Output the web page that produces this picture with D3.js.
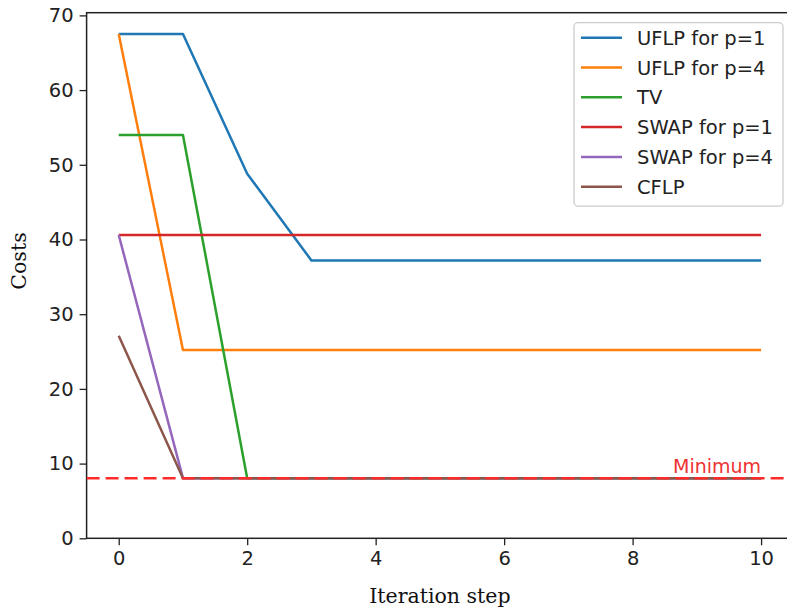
<!DOCTYPE html>
<html>
<head>
<meta charset="utf-8">
<script src="https://cdn.jsdelivr.net/npm/d3@7"></script>
<style>
  html, body { margin: 0; padding: 0; background: #fff; }
  svg { display: block; }
</style>
</head>
<body>
<svg id="chart" width="787" height="612"></svg>
<script>
// Iteration steps shared by every series
const steps = [0, 1, 2, 3, 4, 5, 6, 7, 8, 9, 10];

// Cost per iteration step for each method
const uflpP1  = [67.5, 67.5, 48.8, 37.2, 37.2, 37.2, 37.2, 37.2, 37.2, 37.2, 37.2];
const uflpP4  = [67.5, 25.2, 25.2, 25.2, 25.2, 25.2, 25.2, 25.2, 25.2, 25.2, 25.2];
const tv      = [54.0, 54.0, 8.05, 8.05, 8.05, 8.05, 8.05, 8.05, 8.05, 8.05, 8.05];
const swapP1  = [40.6, 40.6, 40.6, 40.6, 40.6, 40.6, 40.6, 40.6, 40.6, 40.6, 40.6];
const swapP4  = [40.6, 8.05, 8.05, 8.05, 8.05, 8.05, 8.05, 8.05, 8.05, 8.05, 8.05];
const cflp    = [27.1, 8.05, 8.05, 8.05, 8.05, 8.05, 8.05, 8.05, 8.05, 8.05, 8.05];

const seriesNames  = ["UFLP for p=1", "UFLP for p=4", "TV", "SWAP for p=1", "SWAP for p=4", "CFLP"];
const seriesValues = [uflpP1, uflpP4, tv, swapP1, swapP4, cflp];
const seriesColors = ["#1f77b4", "#ff7f0e", "#2ca02c", "#d62728", "#9467bd", "#8c564b"];

// Optimal cost reference line
const minimumCost = 8.05;
const minimumLabel = "Minimum";

const xTicks = [0, 2, 4, 6, 8, 10];
const yTicks = [0, 10, 20, 30, 40, 50, 60, 70];

const svg = d3.select("#chart");

// Plot area (right edge runs past the canvas)
const plotLeft = 86.6, plotRight = 793.2, plotTop = 12.7, plotBottom = 538.3;

const x = d3.scaleLinear().domain([-0.5, 10.5]).range([plotLeft, plotRight]);
const y = d3.scaleLinear().domain([0, 70.36]).range([plotBottom, plotTop]);

svg.append("defs").append("clipPath").attr("id", "plotClip")
  .append("rect").attr("x", plotLeft).attr("y", plotTop)
  .attr("width", plotRight - plotLeft).attr("height", plotBottom - plotTop);

const sans = "DejaVu Sans, sans-serif";

// Axes
const xAxis = svg.append("g")
  .attr("transform", `translate(0,${plotBottom})`)
  .call(d3.axisBottom(x).tickValues(xTicks).tickFormat(d3.format("d")).tickSizeInner(7).tickSizeOuter(0).tickPadding(6));
const yAxis = svg.append("g")
  .attr("transform", `translate(${plotLeft},0)`)
  .call(d3.axisLeft(y).tickValues(yTicks).tickFormat(d3.format("d")).tickSizeInner(7).tickSizeOuter(0).tickPadding(6));

[xAxis, yAxis].forEach(g => {
  g.select(".domain").remove();
  g.selectAll(".tick line").attr("stroke", "#222").attr("stroke-width", 1.3);
  g.selectAll(".tick text").attr("fill", "#222").style("font-family", sans).style("font-size", "19.5px");
});

// Frame
svg.append("rect")
  .attr("x", plotLeft).attr("y", plotTop)
  .attr("width", plotRight - plotLeft).attr("height", plotBottom - plotTop)
  .attr("fill", "none").attr("stroke", "#222").attr("stroke-width", 1.5);

// Series lines
const plot = svg.append("g").attr("clip-path", "url(#plotClip)");
const line = d3.line().x((d, i) => x(steps[i])).y(d => y(d));

seriesValues.forEach((vals, k) => {
  plot.append("path")
    .datum(vals)
    .attr("d", line)
    .attr("fill", "none")
    .attr("stroke", seriesColors[k])
    .attr("stroke-width", 2.5)
    .attr("stroke-linejoin", "round");
});

// Minimum reference line
plot.append("line")
  .attr("x1", plotLeft).attr("x2", plotRight)
  .attr("y1", y(minimumCost)).attr("y2", y(minimumCost))
  .attr("stroke", "#ff2a2a")
  .attr("stroke-width", 2.5)
  .attr("stroke-dasharray", "13,6");

svg.append("text")
  .attr("x", x(10)).attr("y", y(minimumCost) - 5)
  .attr("text-anchor", "end")
  .attr("fill", "#ee3333")
  .style("font-family", sans).style("font-size", "19px")
  .text(minimumLabel);

// Axis titles
svg.append("text")
  .attr("x", (plotLeft + plotRight) / 2).attr("y", 603)
  .attr("text-anchor", "middle")
  .attr("fill", "#111")
  .style("font-family", "DejaVu Serif, serif").style("font-size", "20.5px")
  .text("Iteration step");

svg.append("text")
  .attr("transform", "translate(26,261) rotate(-90)")
  .attr("text-anchor", "middle")
  .attr("fill", "#111")
  .style("font-family", "DejaVu Serif, serif").style("font-size", "20.5px")
  .text("Costs");

// Legend
const lg = svg.append("g");
lg.append("rect")
  .attr("x", 574).attr("y", 22.7).attr("width", 209).attr("height", 183.5)
  .attr("rx", 4).attr("ry", 4)
  .attr("fill", "#fff").attr("fill-opacity", 0.8)
  .attr("stroke", "#ccc").attr("stroke-width", 1.3);

seriesNames.forEach((name, k) => {
  const cy = 37.7 + k * 29.8;
  lg.append("line")
    .attr("x1", 581).attr("x2", 622).attr("y1", cy).attr("y2", cy)
    .attr("stroke", seriesColors[k]).attr("stroke-width", 2.5);
  lg.append("text")
    .attr("x", 637).attr("y", cy).attr("dy", "0.36em")
    .attr("fill", "#222")
    .style("font-family", sans).style("font-size", "19.5px")
    .text(name);
});
</script>
</body>
</html>
